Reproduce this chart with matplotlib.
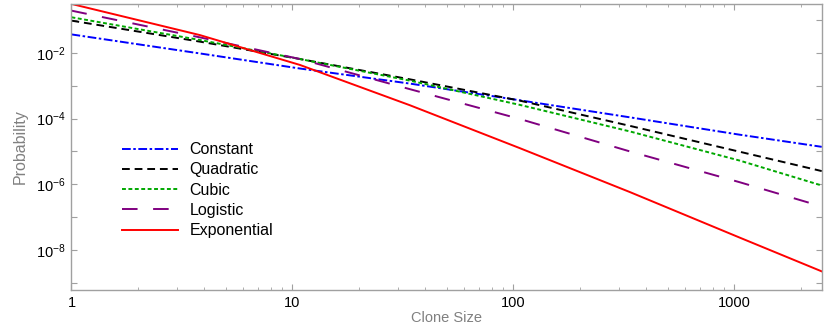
import numpy as np
import matplotlib
matplotlib.use("Agg")
import matplotlib.pyplot as plt
from matplotlib.ticker import LogLocator, FixedLocator, NullFormatter, FuncFormatter

plt.rcParams["font.family"] = ["Liberation Sans", "DejaVu Sans"]
plt.rcParams["mathtext.fontset"] = "custom"
plt.rcParams["mathtext.rm"] = "Liberation Sans"
plt.rcParams["mathtext.default"] = "regular"

clone_size = [1, 3.81, 10.8, 34, 107, 337, 1059, 2490]

# log10 of probability per model
log_constant = [-1.43, -2.01, -2.47, -2.93, -3.44, -3.96, -4.49, -4.86]
log_quadratic = [-1.01, -1.65, -2.18, -2.80, -3.45, -4.22, -5.01, -5.60]
log_cubic = [-0.907, -1.60, -2.18, -2.84, -3.58, -4.39, -5.28, -6.04]
log_logistic = [-0.705, -1.52, -2.18, -3.10, -4.01, -5.00, -5.94, -6.68]
log_exponential = [-0.50, -1.45, -2.36, -3.59, -4.90, -6.24, -7.63, -8.66]

labels = ["Constant", "Quadratic", "Cubic", "Logistic", "Exponential"]
series = [log_constant, log_quadratic, log_cubic, log_logistic, log_exponential]
colors = ["#0000ff", "#000000", "#00a800", "#800080", "#ff0000"]
dashes = [(4.5, 1.3, 1.3, 1.3), (4, 2.5), (2, 1.3), (8, 8), None]

fig = plt.figure(figsize=(8.3, 3.27), dpi=100)
ax = fig.add_axes([0.0861, 0.113, 0.904, 0.875])

for lab, ys, col, ds in zip(labels, series, colors, dashes):
    line, = ax.plot(clone_size, 10 ** np.array(ys), color=col, lw=1.4, label=lab)
    if ds is not None:
        line.set_dashes(ds)

ax.set_xscale("log")
ax.set_yscale("log")
ax.set_xlim(1, 2490)
ax.set_ylim(5.9e-10, 10 ** -0.5)

ax.xaxis.set_major_locator(FixedLocator([1, 10, 100, 1000]))
ax.xaxis.set_major_formatter(FuncFormatter(lambda v, p: f"{v:g}"))
ax.xaxis.set_minor_locator(LogLocator(base=10, subs=np.arange(2, 10)))
ax.xaxis.set_minor_formatter(NullFormatter())

ax.yaxis.set_major_locator(FixedLocator([10.0 ** k for k in range(-9, 0)]))
ax.yaxis.set_major_formatter(FuncFormatter(
    lambda v, p: f"$10^{{{int(round(np.log10(v)))}}}$" if int(round(np.log10(v))) % 2 == 0 else ""))
ax.yaxis.set_minor_locator(FixedLocator([]))

for s in ax.spines.values():
    s.set_color("#a0a0a0")
    s.set_linewidth(1.0)
ax.tick_params(which="both", direction="in", top=True, right=True,
               color="#a0a0a0", labelsize=10.5, labelcolor="black")
ax.tick_params(which="major", length=4, width=0.8)
ax.tick_params(which="minor", length=2.2, width=0.6)
ax.tick_params(axis="x", pad=4)
ax.tick_params(axis="y", pad=4)

ax.set_xlabel("Clone Size", color="#808080", fontsize=10.5, labelpad=1)
ax.set_ylabel("Probability", color="#808080", fontsize=11.5, labelpad=6)

ax.legend(loc="upper left", bbox_to_anchor=(0.057, 0.545), frameon=False,
          fontsize=11.5, handlelength=3.5, handletextpad=0.7,
          labelspacing=0.33, borderpad=0)

fig.savefig("out.png", dpi=100)
